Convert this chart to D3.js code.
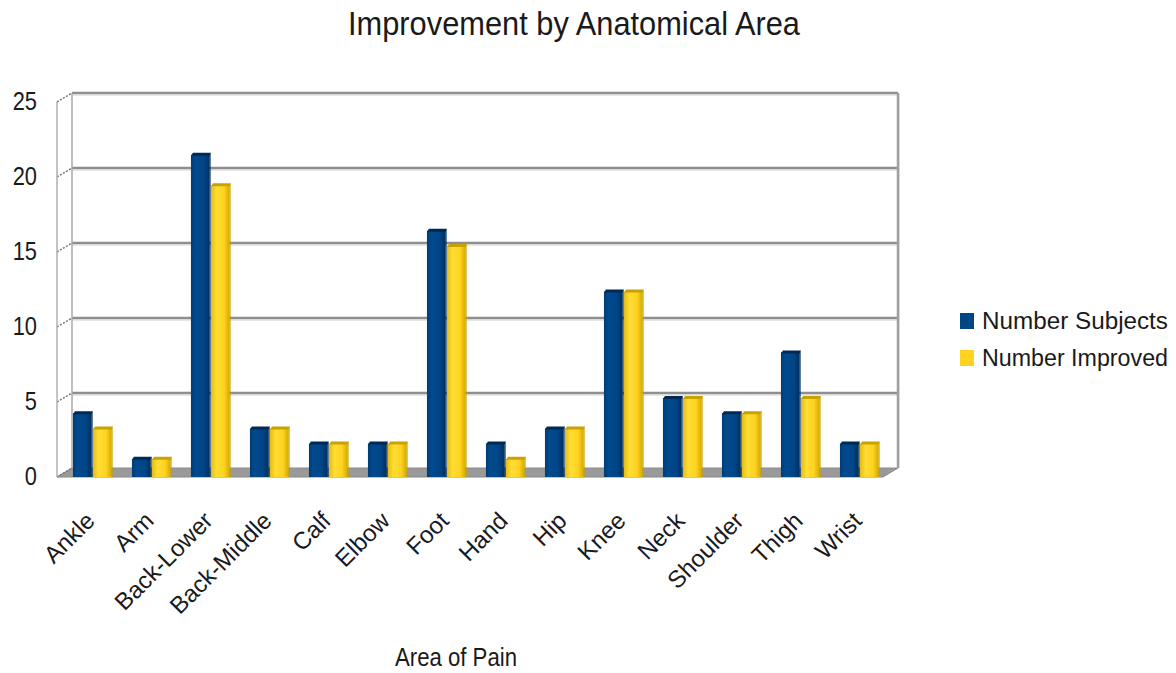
<!DOCTYPE html>
<html><head><meta charset="utf-8">
<script src="https://cdn.jsdelivr.net/npm/d3@7"></script>
<style>body{margin:0;background:#fff}svg{display:block}text{font-family:"Liberation Sans",Arial,sans-serif;fill:#1a1a1a}</style>
</head><body><svg id="c" width="1176" height="673"></svg>
<script>
const categories = ["Ankle","Arm","Back-Lower","Back-Middle","Calf","Elbow","Foot","Hand","Hip","Knee","Neck","Shoulder","Thigh","Wrist"];
const seriesNames = ["Number Subjects","Number Improved"];
const numberSubjects = [4,1,21,3,2,2,16,2,3,12,5,4,8,2];
const numberImproved = [3,1,19,3,2,2,15,1,3,12,5,4,5,2];
const yTicks = [0,5,10,15,20,25];
const colors = ["#004586","#ffd320"];
const titleText = "Improvement by Anatomical Area";
const xTitle = "Area of Pain";

const svg = d3.select("#c");
const defs = svg.append("defs");
function grad(id, stops){
  const g = defs.append("linearGradient").attr("id",id).attr("x1","0").attr("x2","1").attr("y1","0").attr("y2","0");
  stops.forEach(s=>g.append("stop").attr("offset",s[0]).attr("stop-color",s[1]));
}
grad("gb",[[0,"#003d78"],[0.25,"#004a8e"],[0.7,"#004586"],[1,"#002f5e"]]);
grad("gy",[[0,"#e6bb12"],[0.3,"#ffdd35"],[0.7,"#ffd320"],[1,"#d4aa00"]]);
const fills = ["url(#gb)","url(#gy)"];
const capCol = ["#002a55","#c9a200"];

// scales
const yBack = d3.scaleLinear().domain([0,25]).range([468,93]);
const yFront = d3.scaleLinear().domain([0,25]).range([472,92]);
const yBase = 477;
const x = d3.scaleBand().domain(categories).range([63.5,889.5]).paddingInner(0.32).paddingOuter(0.16);
const xs = d3.scaleBand().domain(seriesNames).range([0,x.bandwidth()]);

const wallL = 72, wallR = 898, dx = 15, dy = 9;

// floor
svg.append("polygon")
  .attr("points",[[wallL,yBack(0)],[wallR,yBack(0)],[wallR-dx,yBack(0)+dy],[wallL-dx,yBack(0)+dy]].map(p=>p.join(",")).join(" "))
  .attr("fill","#9a9a9a").attr("stroke","#8a8a8a");

// back wall gridlines
yTicks.filter(t=>t>0).forEach(t=>{
  svg.append("line").attr("x1",wallL).attr("x2",wallR).attr("y1",yBack(t)).attr("y2",yBack(t))
    .attr("stroke","#8e8e8e").attr("stroke-width",2.5);
  svg.append("line").attr("x1",wallL).attr("x2",wallR).attr("y1",yBack(t)+2).attr("y2",yBack(t)+2)
    .attr("stroke","#cfcfcf").attr("stroke-width",1);
  svg.append("line").attr("x1",wallL-dx).attr("x2",wallL).attr("y1",yBack(t)+dy).attr("y2",yBack(t))
    .attr("stroke","#777").attr("stroke-width",1.5).attr("stroke-dasharray","2,1.5");
});
svg.append("line").attr("x1",wallL-dx).attr("x2",wallL).attr("y1",yBack(0)+dy).attr("y2",yBack(0))
  .attr("stroke","#777").attr("stroke-width",1.5).attr("stroke-dasharray","2,1.5");
svg.append("line").attr("x1",wallL).attr("x2",wallL).attr("y1",yBack(25)).attr("y2",yBack(0)).attr("stroke","#a8a8a8").attr("stroke-width",1.5);
svg.append("line").attr("x1",wallL-dx).attr("x2",wallL-dx).attr("y1",yBack(25)+dy).attr("y2",yBack(0)+dy).attr("stroke","#b0b0b0").attr("stroke-width",1.5);
svg.append("line").attr("x1",wallR).attr("x2",wallR).attr("y1",yBack(25)).attr("y2",yBack(0)).attr("stroke","#a0a0a0").attr("stroke-width",2.5);
svg.append("line").attr("x1",wallR+1.5).attr("x2",wallR+1.5).attr("y1",yBack(25)).attr("y2",yBack(0)).attr("stroke","#d8d8d8").attr("stroke-width",1);

// y tick labels
svg.selectAll(".yt").data(yTicks).join("text").attr("class","yt")
  .attr("transform",d=>`translate(37,${yBack(d)+17}) scale(0.95,1.1)`).attr("text-anchor","end")
  .attr("font-size",23).text(d=>d);

// bars
const seriesVals = [numberSubjects, numberImproved];
seriesNames.forEach((s,si)=>{
  const g = svg.append("g");
  categories.forEach((c,i)=>{
    const v = seriesVals[si][i];
    const x0 = x(c)+xs(s), w = xs.bandwidth();
    const yt = yFront(v);
    g.append("rect").attr("x",x0+w-2).attr("y",yt+1).attr("width",2).attr("height",yBase-yt-1).attr("fill",capCol[si]).attr("opacity",0.6);
    g.append("rect").attr("x",x0).attr("y",yt+2).attr("width",w-1.5).attr("height",yBase-yt-2).attr("fill",fills[si]);
    g.append("polygon").attr("points",[[x0,yt+3],[x0+2,yt],[x0+w,yt],[x0+w-1.5,yt+3]].map(p=>p.join(",")).join(" "))
      .attr("fill",capCol[si]);
  });
});

// x labels
svg.selectAll(".xl").data(categories).join("text").attr("class","xl")
  .attr("transform",d=>`translate(${x(d)+x.bandwidth()/2-9},${510}) rotate(-45)`)
  .attr("text-anchor","end").attr("dy","0.72em").attr("font-size",24).text(d=>d);

// title
svg.append("text").attr("transform","translate(574,35) scale(1,1.1)").attr("text-anchor","middle")
  .attr("font-size",31).attr("textLength",452).attr("lengthAdjust","spacingAndGlyphs").text(titleText);
// x title
svg.append("text").attr("transform","translate(456,666) scale(1,1.15)").attr("text-anchor","middle")
  .attr("font-size",22).attr("textLength",122).attr("lengthAdjust","spacingAndGlyphs").text(xTitle);

// legend
seriesNames.forEach((s,i)=>{
  const ly = 313 + i*37;
  svg.append("rect").attr("x",960).attr("y",ly).attr("width",14).attr("height",16).attr("fill",colors[i]);
  svg.append("text").attr("x",982).attr("y",ly+16).attr("font-size",23)
    .attr("textLength",186).attr("lengthAdjust","spacingAndGlyphs").text(s);
});
</script></body></html>
